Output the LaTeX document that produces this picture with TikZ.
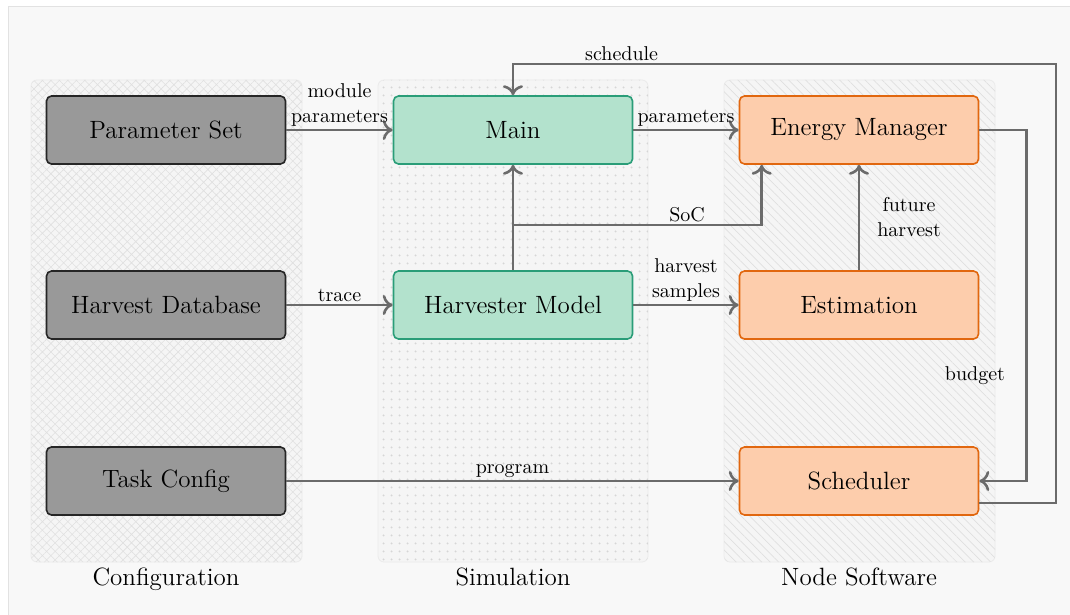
\documentclass[tikz,border=0pt]{standalone}
\usetikzlibrary{arrows.meta,patterns.meta,calc}

\definecolor{pagebg}{HTML}{F8F8F8}
\definecolor{pageline}{HTML}{E2E2E2}
\definecolor{grpfill}{HTML}{F5F5F5}
\definecolor{grpline}{HTML}{EBEBEB}
\definecolor{grppat}{HTML}{E0E0E0}
\definecolor{dotpat}{HTML}{D6D6D6}
\definecolor{cfgfill}{HTML}{999999}
\definecolor{cfgline}{HTML}{262626}
\definecolor{simfill}{HTML}{B3E2CD}
\definecolor{simline}{HTML}{2A9D78}
\definecolor{nswfill}{HTML}{FDCDAC}
\definecolor{nswline}{HTML}{E1670F}
\definecolor{flowgray}{HTML}{6B6B6B}

\tikzset{
  box/.style={rectangle, rounded corners=2.5pt, minimum width=119.5pt,
    minimum height=34pt, inner sep=0pt, line width=0.8pt,
    font=\fontsize{12.5}{15}\selectfont},
  cfgbox/.style={box, fill=cfgfill, draw=cfgline},
  simbox/.style={box, fill=simfill, draw=simline},
  nswbox/.style={box, fill=nswfill, draw=nswline},
  flow/.style={draw=flowgray, line width=1.3pt,
    -{To[length=5pt,width=10pt]}},
  lbl/.style={font=\fontsize{10}{12.5}\selectfont, align=center, inner sep=1pt},
  grp/.style={rounded corners=3pt, fill=grpfill, draw=grpline, line width=0.4pt},
  grplbl/.style={font=\fontsize{12.5}{15}\selectfont, anchor=base},
}

\begin{document}
\begin{tikzpicture}[x=0.5pt, y=-0.5pt]
  \useasboundingbox (0,0) rectangle (1070,615);
  \fill[white] (0,0) rectangle (1070,615);
  \draw[fill=pagebg, draw=pageline, line width=0.5pt] (8,7) rectangle (1080,625);

  % group panels
  \draw[grp] (31,80) rectangle (302,562);
  \fill[pattern={Hatch[angle=45,distance=3pt,line width=0.3pt]}, pattern color=grppat, rounded corners=3pt]
    (31,80) rectangle (302,562);
  \draw[grp] (378,80) rectangle (648,562);
  \fill[pattern={Dots[distance=4pt,radius=0.6pt]}, pattern color=dotpat, rounded corners=3pt]
    (378,80) rectangle (648,562);
  \draw[grp] (724,80) rectangle (995,562);
  \fill[pattern={Lines[angle=-45,distance=3pt,line width=0.35pt]}, pattern color=grppat, rounded corners=3pt]
    (724,80) rectangle (995,562);

  \node[grplbl] (lcfg) at (166,585) {Configuration};
  \node[grplbl] (lsim) at (513,585) {Simulation};
  \node[grplbl] (lnsw) at (859,585) {Node Software};

  % blocks
  \node[cfgbox] (ps)   at (166,130) {Parameter Set};
  \node[cfgbox] (hd)   at (166,305) {Harvest Database};
  \node[cfgbox] (tc)   at (166,481) {Task Config};
  \node[simbox] (main) at (513,130) {Main};
  \node[simbox] (hm)   at (513,305) {Harvester Model};
  \node[nswbox] (em)   at (859,130) {Energy Manager};
  \node[nswbox] (est)  at (859,305) {Estimation};
  \node[nswbox] (sch)  at (859,481) {Scheduler};

  % helper points
  \coordinate (split)  at (513,225);
  \coordinate (socin)  at ($(em.south west)+(23,0)$);
  \coordinate (schout) at ($(sch.east)+(0,22)$);
  \coordinate (topr)   at (1056,64);
  \coordinate (topm)   at (main.north |- topr);

  % connectors
  \draw[flow] (ps) -- node[lbl, above] {module\\parameters} (main);
  \draw[flow] (hd) -- node[lbl, above] {trace} (hm);
  \draw[flow] (tc) -- node[lbl, above] {program} (sch);
  \draw[flow] (main) -- node[lbl, above] {parameters} (em);
  \draw[flow] (hm) -- node[lbl, above] {harvest\\samples} (est);
  \draw[flow] (hm) -- (main);
  \draw[flow] (split) -| node[lbl, above, pos=0.35] {SoC} (socin);
  \draw[flow] (est) -- node[lbl, right=7.5pt] {future\\harvest} (em);
  \draw[flow] (em.east) -- ++(47,0) |- node[lbl, left=9pt, pos=0.35] {budget} (sch.east);
  \draw[flow] (schout) -- (schout -| topr) -- (topr)
    -- node[lbl, above, pos=0.8] {schedule} (topm) -- (main.north);
\end{tikzpicture}
\end{document}
